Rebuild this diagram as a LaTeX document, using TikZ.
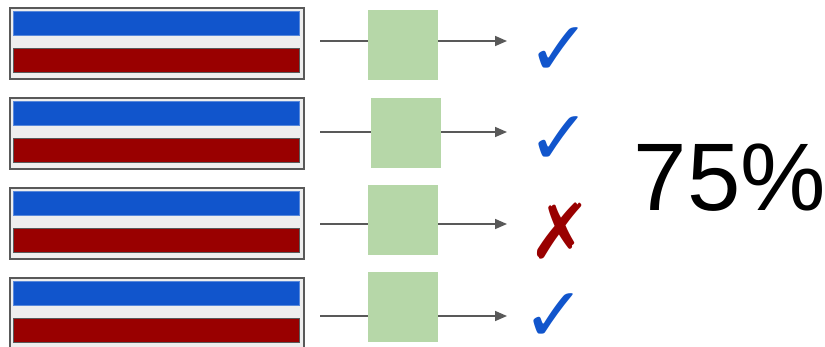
\documentclass[tikz,border=0pt]{standalone}
\usepackage{fontspec}
\setmainfont{Liberation Sans}
\newfontfamily\symfont{DejaVu Sans}
\usetikzlibrary{arrows.meta}
\definecolor{barblue}{HTML}{1155CC}
\definecolor{barred}{HTML}{990000}
\definecolor{panelgray}{HTML}{EEEEEE}
\definecolor{edgegray}{HTML}{595959}
\definecolor{modelgreen}{HTML}{B6D7A8}
\tikzset{
  panel/.style={draw=edgegray, line width=1.6pt, fill=panelgray, minimum width=294pt, minimum height=71pt, inner sep=0pt, anchor=north west},
  bluebar/.style={draw=barblue!70!white, line width=0.6pt, fill=barblue, minimum width=286pt, minimum height=24pt, inner sep=0pt, anchor=north west},
  redbar/.style={draw=edgegray, line width=1.2pt, fill=barred, minimum width=286pt, minimum height=24pt, inner sep=0pt, anchor=north west},
  model/.style={fill=modelgreen, minimum width=70pt, minimum height=70pt, inner sep=0pt, anchor=north west},
  flow/.style={draw=edgegray, line width=1.6pt},
  flowarrow/.style={flow, -{Triangle[length=12pt,width=10pt]}},
  markbase/.style={font=\symfont\fontsize{76}{76}\selectfont, inner sep=0pt, anchor=base, text depth=0pt},
  goodmark/.style={markbase, text=barblue},
  badmark/.style={markbase, text=barred},
}
\begin{document}
\begin{tikzpicture}[x=1pt, y=-1pt]
  \useasboundingbox (0,0) rectangle (825,346);
  % four examples: input panel, model box, prediction mark
  \foreach \i/\top/\gx/\gy/\ly/\mx/\my/\mstyle/\mtxt in {
      1/7/368/10/41/559/75/goodmark/✓,
      2/97/371/98/132/559/164/goodmark/✓,
      3/187/368/185/224/560/258/badmark/✗,
      4/277/368/272/316/554/341/goodmark/✓} {
    \node[panel] (panel\i) at (9,\top) {};
    \node[bluebar] (blue\i) at (13,\top+4) {};
    \node[redbar] (red\i) at (13,\top+41) {};
    \node[model] (model\i) at (\gx,\gy) {};
    \coordinate (in\i) at (320,\ly);
    \coordinate (out\i) at (507,\ly);
    \draw[flow] (in\i) -- (model\i.west |- in\i);
    \draw[flowarrow] (model\i.east |- in\i) -- (out\i);
    \node[\mstyle] (mark\i) at (\mx,\my) {\mtxt};
  }
  \node[font=\fontsize{96}{96}\selectfont, inner sep=0pt] (score) at (730,178) {75\%};
\end{tikzpicture}
\end{document}
